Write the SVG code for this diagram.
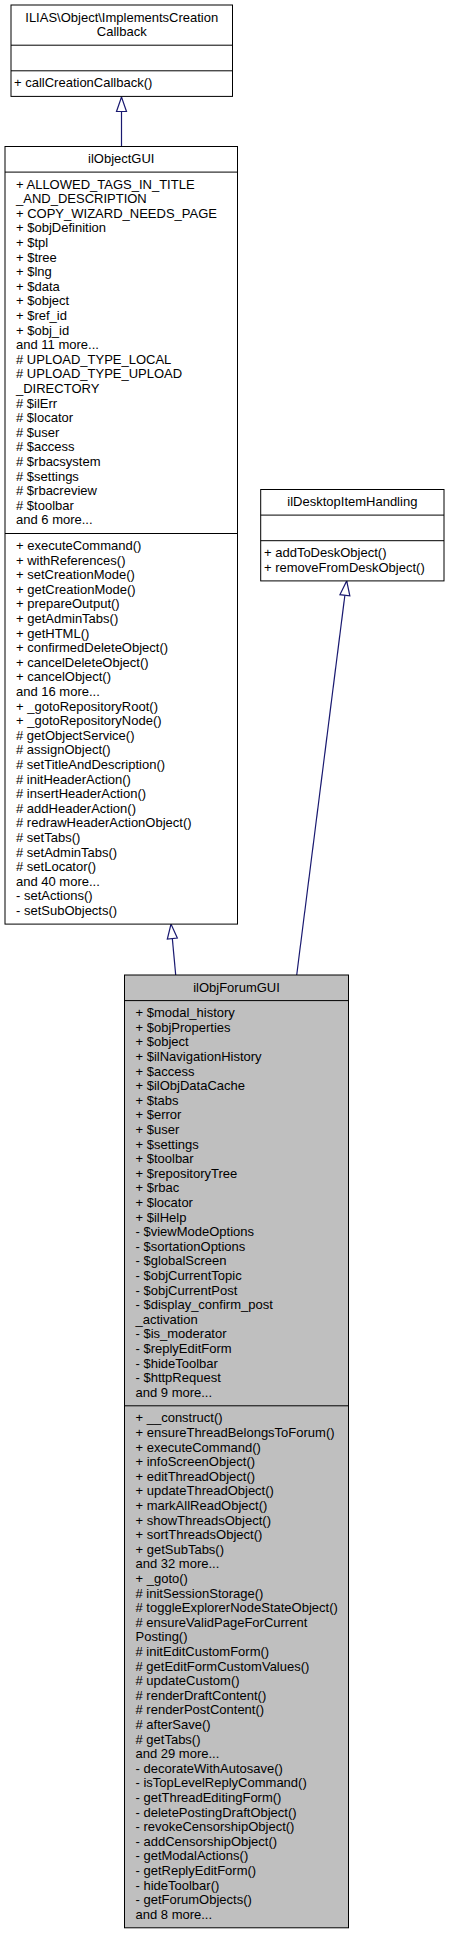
<svg xmlns="http://www.w3.org/2000/svg" width="450" height="1937" viewBox="0 0 450 1937">
<style>
  text { font-family: "Liberation Sans", Arial, Helvetica, sans-serif; font-size: 13px; fill: #000; }
  .t { text-anchor: middle; }
  .box { fill: #ffffff; stroke: #000; stroke-width: 1; }
  .cur { fill: #bfbfbf; stroke: #000; stroke-width: 1; }
  .sep { stroke: #000; stroke-width: 1; }
  .edge { fill: none; stroke: #191970; stroke-width: 1.2; marker-end: url(#inh); }
</style>
<defs>
  <marker id="inh" markerUnits="userSpaceOnUse" markerWidth="18" markerHeight="14" refX="15" refY="6" orient="auto" overflow="visible">
    <path d="M0.5,1 L15,6 L0.5,11 Z" fill="#ffffff" stroke="#191970" stroke-width="1.2"/>
  </marker>
</defs>
<g id="connectors">
  <path class="edge" d="M121.5,146.5 L121.5,97"/>
  <path class="edge" d="M175.7,975 L171,924.1"/>
  <path class="edge" d="M296.7,975 L346.7,580.9"/>
</g>
<g id="node-ImplementsCreationCallback">
  <rect class="box" x="11" y="5" width="221.5" height="91.4"/>
  <line class="sep" x1="11" y1="45.2" x2="232.5" y2="45.2"/>
  <line class="sep" x1="11" y1="70.8" x2="232.5" y2="70.8"/>
  <text class="t" x="121.75" y="21.5">ILIAS\Object\ImplementsCreation</text>
  <text class="t" x="121.75" y="36.1">Callback</text>
  <text x="14" y="87.3">+ callCreationCallback()</text>
</g>
<g id="node-ilObjectGUI">
  <rect class="box" x="5" y="146.5" width="232.5" height="777.6"/>
  <line class="sep" x1="5" y1="172.1" x2="237.5" y2="172.1"/>
  <line class="sep" x1="5" y1="533.5" x2="237.5" y2="533.5"/>
  <text class="t" x="121.25" y="163">ilObjectGUI</text>
  <text x="16" y="188.6">+ ALLOWED_TAGS_IN_TITLE<tspan x="16" dy="14.6">_AND_DESCRIPTION</tspan><tspan x="16" dy="14.6">+ COPY_WIZARD_NEEDS_PAGE</tspan><tspan x="16" dy="14.6">+ $objDefinition</tspan><tspan x="16" dy="14.6">+ $tpl</tspan><tspan x="16" dy="14.6">+ $tree</tspan><tspan x="16" dy="14.6">+ $lng</tspan><tspan x="16" dy="14.6">+ $data</tspan><tspan x="16" dy="14.6">+ $object</tspan><tspan x="16" dy="14.6">+ $ref_id</tspan><tspan x="16" dy="14.6">+ $obj_id</tspan><tspan x="16" dy="14.6">and 11 more...</tspan><tspan x="16" dy="14.6"># UPLOAD_TYPE_LOCAL</tspan><tspan x="16" dy="14.6"># UPLOAD_TYPE_UPLOAD</tspan><tspan x="16" dy="14.6">_DIRECTORY</tspan><tspan x="16" dy="14.6"># $ilErr</tspan><tspan x="16" dy="14.6"># $locator</tspan><tspan x="16" dy="14.6"># $user</tspan><tspan x="16" dy="14.6"># $access</tspan><tspan x="16" dy="14.6"># $rbacsystem</tspan><tspan x="16" dy="14.6"># $settings</tspan><tspan x="16" dy="14.6"># $rbacreview</tspan><tspan x="16" dy="14.6"># $toolbar</tspan><tspan x="16" dy="14.6">and 6 more...</tspan></text>
  <text x="16" y="550">+ executeCommand()<tspan x="16" dy="14.6">+ withReferences()</tspan><tspan x="16" dy="14.6">+ setCreationMode()</tspan><tspan x="16" dy="14.6">+ getCreationMode()</tspan><tspan x="16" dy="14.6">+ prepareOutput()</tspan><tspan x="16" dy="14.6">+ getAdminTabs()</tspan><tspan x="16" dy="14.6">+ getHTML()</tspan><tspan x="16" dy="14.6">+ confirmedDeleteObject()</tspan><tspan x="16" dy="14.6">+ cancelDeleteObject()</tspan><tspan x="16" dy="14.6">+ cancelObject()</tspan><tspan x="16" dy="14.6">and 16 more...</tspan><tspan x="16" dy="14.6">+ _gotoRepositoryRoot()</tspan><tspan x="16" dy="14.6">+ _gotoRepositoryNode()</tspan><tspan x="16" dy="14.6"># getObjectService()</tspan><tspan x="16" dy="14.6"># assignObject()</tspan><tspan x="16" dy="14.6"># setTitleAndDescription()</tspan><tspan x="16" dy="14.6"># initHeaderAction()</tspan><tspan x="16" dy="14.6"># insertHeaderAction()</tspan><tspan x="16" dy="14.6"># addHeaderAction()</tspan><tspan x="16" dy="14.6"># redrawHeaderActionObject()</tspan><tspan x="16" dy="14.6"># setTabs()</tspan><tspan x="16" dy="14.6"># setAdminTabs()</tspan><tspan x="16" dy="14.6"># setLocator()</tspan><tspan x="16" dy="14.6">and 40 more...</tspan><tspan x="16" dy="14.6">- setActions()</tspan><tspan x="16" dy="14.6">- setSubObjects()</tspan></text>
</g>
<g id="node-ilDesktopItemHandling">
  <rect class="box" x="260.7" y="489.5" width="183.3" height="91.4"/>
  <line class="sep" x1="260.7" y1="515.1" x2="444" y2="515.1"/>
  <line class="sep" x1="260.7" y1="540.7" x2="444" y2="540.7"/>
  <text class="t" x="352.35" y="506">ilDesktopItemHandling</text>
  <text x="264" y="557.2">+ addToDeskObject()<tspan x="264" dy="14.6">+ removeFromDeskObject()</tspan></text>
</g>
<g id="node-ilObjForumGUI">
  <rect class="cur" x="124.5" y="975" width="224" height="952.8"/>
  <line class="sep" x1="124.5" y1="1000.6" x2="348.5" y2="1000.6"/>
  <line class="sep" x1="124.5" y1="1405.8" x2="348.5" y2="1405.8"/>
  <text class="t" x="236.5" y="991.5">ilObjForumGUI</text>
  <text x="135.5" y="1017.1">+ $modal_history<tspan x="135.5" dy="14.6">+ $objProperties</tspan><tspan x="135.5" dy="14.6">+ $object</tspan><tspan x="135.5" dy="14.6">+ $ilNavigationHistory</tspan><tspan x="135.5" dy="14.6">+ $access</tspan><tspan x="135.5" dy="14.6">+ $ilObjDataCache</tspan><tspan x="135.5" dy="14.6">+ $tabs</tspan><tspan x="135.5" dy="14.6">+ $error</tspan><tspan x="135.5" dy="14.6">+ $user</tspan><tspan x="135.5" dy="14.6">+ $settings</tspan><tspan x="135.5" dy="14.6">+ $toolbar</tspan><tspan x="135.5" dy="14.6">+ $repositoryTree</tspan><tspan x="135.5" dy="14.6">+ $rbac</tspan><tspan x="135.5" dy="14.6">+ $locator</tspan><tspan x="135.5" dy="14.6">+ $ilHelp</tspan><tspan x="135.5" dy="14.6">- $viewModeOptions</tspan><tspan x="135.5" dy="14.6">- $sortationOptions</tspan><tspan x="135.5" dy="14.6">- $globalScreen</tspan><tspan x="135.5" dy="14.6">- $objCurrentTopic</tspan><tspan x="135.5" dy="14.6">- $objCurrentPost</tspan><tspan x="135.5" dy="14.6">- $display_confirm_post</tspan><tspan x="135.5" dy="14.6">_activation</tspan><tspan x="135.5" dy="14.6">- $is_moderator</tspan><tspan x="135.5" dy="14.6">- $replyEditForm</tspan><tspan x="135.5" dy="14.6">- $hideToolbar</tspan><tspan x="135.5" dy="14.6">- $httpRequest</tspan><tspan x="135.5" dy="14.6">and 9 more...</tspan></text>
  <text x="135.5" y="1422.3">+ __construct()<tspan x="135.5" dy="14.6">+ ensureThreadBelongsToForum()</tspan><tspan x="135.5" dy="14.6">+ executeCommand()</tspan><tspan x="135.5" dy="14.6">+ infoScreenObject()</tspan><tspan x="135.5" dy="14.6">+ editThreadObject()</tspan><tspan x="135.5" dy="14.6">+ updateThreadObject()</tspan><tspan x="135.5" dy="14.6">+ markAllReadObject()</tspan><tspan x="135.5" dy="14.6">+ showThreadsObject()</tspan><tspan x="135.5" dy="14.6">+ sortThreadsObject()</tspan><tspan x="135.5" dy="14.6">+ getSubTabs()</tspan><tspan x="135.5" dy="14.6">and 32 more...</tspan><tspan x="135.5" dy="14.6">+ _goto()</tspan><tspan x="135.5" dy="14.6"># initSessionStorage()</tspan><tspan x="135.5" dy="14.6"># toggleExplorerNodeStateObject()</tspan><tspan x="135.5" dy="14.6"># ensureValidPageForCurrent</tspan><tspan x="135.5" dy="14.6">Posting()</tspan><tspan x="135.5" dy="14.6"># initEditCustomForm()</tspan><tspan x="135.5" dy="14.6"># getEditFormCustomValues()</tspan><tspan x="135.5" dy="14.6"># updateCustom()</tspan><tspan x="135.5" dy="14.6"># renderDraftContent()</tspan><tspan x="135.5" dy="14.6"># renderPostContent()</tspan><tspan x="135.5" dy="14.6"># afterSave()</tspan><tspan x="135.5" dy="14.6"># getTabs()</tspan><tspan x="135.5" dy="14.6">and 29 more...</tspan><tspan x="135.5" dy="14.6">- decorateWithAutosave()</tspan><tspan x="135.5" dy="14.6">- isTopLevelReplyCommand()</tspan><tspan x="135.5" dy="14.6">- getThreadEditingForm()</tspan><tspan x="135.5" dy="14.6">- deletePostingDraftObject()</tspan><tspan x="135.5" dy="14.6">- revokeCensorshipObject()</tspan><tspan x="135.5" dy="14.6">- addCensorshipObject()</tspan><tspan x="135.5" dy="14.6">- getModalActions()</tspan><tspan x="135.5" dy="14.6">- getReplyEditForm()</tspan><tspan x="135.5" dy="14.6">- hideToolbar()</tspan><tspan x="135.5" dy="14.6">- getForumObjects()</tspan><tspan x="135.5" dy="14.6">and 8 more...</tspan></text>
</g>
</svg>
